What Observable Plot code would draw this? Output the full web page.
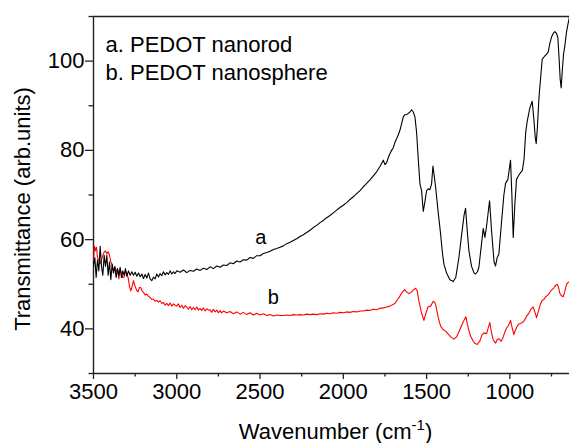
<!DOCTYPE html>
<html><head><meta charset="utf-8">
<script src="https://cdn.jsdelivr.net/npm/d3@7"></script>
<script src="https://cdn.jsdelivr.net/npm/@observablehq/plot@0.6"></script>
<style>html,body{margin:0;padding:0;background:#fff}</style>
</head><body><div id="chart"></div>
<script>
// Curve a: PEDOT nanorod (black)
const waveA = [3500,3492,3484,3476,3468,3460,3452,3444,3436,3428,3420,3412,3404,3396,3388,3380,3372,3364,3356,3348,3340,3332,3324,3316,3308,3300,3290,3280,3270,3260,3250,3240,3230,3220,3210,3200,3190,3180,3170,3160,3150,3140,3130,3120,3110,3100,3090,3080,3070,3060,3050,3040,3030,3020,3010,3000,2980,2960,2940,2920,2900,2880,2860,2840,2820,2800,2780,2760,2740,2720,2700,2680,2660,2640,2620,2600,2580,2560,2540,2520,2500,2480,2460,2440,2420,2400,2380,2360,2340,2320,2300,2280,2260,2240,2220,2200,2180,2160,2140,2120,2100,2080,2060,2040,2020,2000,1980,1960,1940,1920,1900,1880,1860,1840,1820,1800,1780,1760,1750,1740,1730,1720,1710,1700,1690,1680,1670,1660,1650,1640,1630,1620,1610,1600,1590,1580,1570,1560,1550,1540,1530,1520,1510,1500,1490,1480,1470,1462,1455,1446,1430,1416,1405,1396,1380,1360,1340,1325,1306,1290,1275,1266,1256,1246,1230,1215,1206,1195,1186,1172,1160,1150,1140,1122,1110,1095,1086,1076,1066,1050,1036,1026,1012,996,988,980,970,960,950,940,925,915,905,896,880,866,856,848,842,835,825,816,806,792,780,770,760,750,740,730,720,712,705,698,692,685,678,670,660,650,642];
const transA = [54,56,51.5,55.5,53,58.5,54,52,56.5,54,56.5,52,55,51,54.5,52.5,54,51.5,53.5,52,53.8,51.5,53,52,53.5,51.8,53,52,52.8,52,52.7,51.8,52.5,51.7,52.3,51.3,52.2,51.4,52.5,51.2,50.8,51.6,51.2,52.3,51.6,52.4,51.9,52.8,52.1,52.6,52.2,53,52.3,52.8,52.4,53,52.7,53.2,52.6,53.1,52.9,53.4,53.1,53.6,53.3,53.9,53.5,54.1,53.8,54.3,54.2,54.8,54.6,55.2,55,55.5,55.4,56,55.8,56.4,56.4,56.9,57.1,57.4,57.8,58,58.3,58.6,59.1,59.4,59.8,60.2,60.7,61.1,61.6,62.1,62.7,63.2,63.8,64.3,64.9,65.4,66,66.6,67.2,67.7,68.3,69,69.6,70.3,71,71.8,72.6,73.4,74.3,75.2,76.4,77.8,76.8,77.2,78.4,79.3,80,80.6,81.8,82.6,83.5,84.5,86,87.5,88,88,88.3,88.6,89.1,88.6,87.5,84,78,72.5,71,66.3,68.5,71,71.4,71.2,72.5,76.5,74.5,71.8,66,61.3,57,54.5,52.5,51,50.6,51.5,56,61,65.5,67,62,57.5,54,52.5,52.3,52.8,53.8,58.5,62.5,60.5,63,68.7,62,55,54.1,56,56.8,64,70,72.6,73.5,77.8,70,60.5,68,73.5,74.2,74.8,75.5,78,84,86.5,89.5,91,87,83,81.5,85,92,96,100.4,101.1,101.5,102,104,105.4,106.2,106.6,106.2,105.3,101,96,94,98,101.5,103.4,106.5,108.5,110];

// Curve b: PEDOT nanosphere (red)
const waveB = [3500,3494,3488,3482,3476,3468,3460,3452,3444,3436,3428,3420,3412,3404,3396,3388,3380,3372,3364,3356,3348,3340,3332,3324,3316,3308,3300,3292,3284,3276,3268,3260,3250,3240,3232,3224,3216,3208,3200,3190,3180,3170,3160,3150,3140,3130,3120,3110,3100,3090,3080,3070,3060,3050,3040,3030,3020,3010,3000,2990,2980,2970,2960,2950,2940,2930,2920,2910,2900,2890,2880,2870,2860,2850,2840,2830,2820,2810,2800,2790,2780,2770,2760,2750,2740,2730,2720,2700,2680,2660,2640,2620,2600,2580,2560,2540,2520,2500,2480,2460,2440,2420,2400,2380,2360,2340,2320,2300,2280,2260,2240,2220,2200,2180,2160,2140,2120,2100,2080,2060,2040,2020,2000,1980,1960,1940,1920,1900,1880,1860,1840,1820,1800,1780,1760,1740,1720,1700,1690,1680,1666,1650,1632,1620,1606,1590,1578,1566,1556,1546,1530,1516,1504,1492,1476,1460,1452,1446,1430,1416,1400,1386,1370,1355,1336,1320,1308,1296,1280,1264,1255,1245,1236,1220,1208,1196,1180,1168,1156,1140,1128,1120,1112,1100,1086,1076,1066,1052,1040,1030,1020,1008,996,986,976,966,956,946,930,916,900,885,870,860,850,840,830,818,806,796,785,775,766,750,735,725,716,708,700,690,680,670,660,650,642];
const transB = [55.5,58.5,57.5,58.3,56,55.5,54.6,55.5,56.5,57.2,57.5,56.8,57.3,56.5,55,54.3,53,53.8,52.8,53.5,51.2,53.3,52.5,51.5,51.6,53,52.2,51.5,49.5,48.5,49.5,50.8,49.5,48.6,48.3,49.3,49.2,48.5,48.2,47.6,47.8,47.3,47,46.6,46.7,46.2,46.4,46,46.3,45.7,45.9,45.3,45.7,45.2,45.8,45.1,45.6,45.3,45.1,45.6,44.8,45.3,44.6,45.2,44.9,44.4,45,44.3,44.8,44.3,44.9,44.2,44.6,44.1,44.7,44,44.5,44.2,44.3,43.7,44.4,43.8,44.2,43.6,44.1,43.6,44,43.6,43.9,43.4,43.8,43.3,43.7,43.2,43.6,43.1,43.5,43.1,43.4,43,43.2,42.9,43.1,43,43,43.1,43,43.2,43.1,43.2,43.1,43.3,43.2,43.3,43.2,43.4,43.3,43.5,43.4,43.6,43.5,43.7,43.6,43.8,43.7,43.9,43.8,44,44,44.2,44.1,44.4,44.3,44.6,44.7,44.9,45.1,45.5,45.7,46.3,47,48,48.8,48.3,47.9,48.3,48.8,49.1,48.5,46.2,43.5,41.9,43.5,44.9,45.1,46.2,46,45.5,42.5,40.6,39.8,39.5,38.8,38.2,37.7,38.2,39.2,40.2,41.6,42.7,41,39.5,38.4,37.2,36.7,36.5,37.3,38.6,39.1,38.9,40.5,41.4,39.5,37.5,36.8,37.6,37.8,37.2,38.2,39.3,40.2,40.8,41.9,40.2,38.7,39.8,40.6,41.1,41.3,41.7,42.8,43.6,44.6,44.9,43.8,42.5,43.8,45.4,46.4,46.6,47.2,47.5,47.8,48.7,49.2,49.8,50,49.3,48,47.4,47.2,48.4,50,50.4,50.6];

// Ticks
const majorX = [3500, 3000, 2500, 2000, 1500, 1000];
const minorX = [3250, 2750, 2250, 1750, 1250, 750];
const majorY = [40, 60, 80, 100];
const minorY = [30, 50, 70, 90, 110];

// Text
const legendLines = ["a. PEDOT nanorod", "b. PEDOT nanosphere"];
const curveLabels = ["a", "b"];
const curveLabelX = [2496, 2420];
const curveLabelY = [60.5, 47];
const xTitle = "Wavenumber (cm-1)";
const yTitle = "Transmittance (arb.units)";

const dataA = waveA.map((w, i) => ({w, t: transA[i]}));
const dataB = waveB.map((w, i) => ({w, t: transB[i]}));
const labels = curveLabels.map((s, i) => ({s, x: curveLabelX[i], y: curveLabelY[i]}));

const font = "'Liberation Sans', Arial, Helvetica, sans-serif";
const axisColor = "#222";

const chart = Plot.plot({
  width: 569,
  height: 443,
  marginLeft: 93,
  marginRight: 0,
  marginTop: 16,
  marginBottom: 70,
  style: {fontFamily: font, fontSize: "22px", color: "#000", background: "#fff"},
  x: {domain: [3500, 642]},
  y: {domain: [30, 110]},
  marks: [
    Plot.axisX({ticks: majorX, tickSize: 6, tickPadding: 4, tickFormat: d => String(d), label: null, stroke: axisColor, strokeWidth: 1.3, fontSize: 22}),
    Plot.axisX({ticks: minorX, tickSize: 3.5, tickFormat: () => "", label: null, stroke: axisColor, strokeWidth: 1.3}),
    Plot.axisY({ticks: majorY, tickSize: 8, tickPadding: 1, tickFormat: d => String(d), label: null, stroke: axisColor, strokeWidth: 1.3, fontSize: 22}),
    Plot.axisY({ticks: minorY, tickSize: 4.5, tickFormat: () => "", label: null, stroke: axisColor, strokeWidth: 1.3}),
    Plot.ruleY([30], {stroke: axisColor, strokeWidth: 1.4}),
    Plot.ruleY([110], {stroke: axisColor, strokeWidth: 1.4}),
    Plot.ruleX([3500], {stroke: axisColor, strokeWidth: 1.4}),
    Plot.line(dataB, {x: "w", y: "t", stroke: "#ff0000", strokeWidth: 1.1}),
    Plot.line(dataA, {x: "w", y: "t", stroke: "#000", strokeWidth: 1.1}),
    Plot.text(labels, {x: "x", y: "y", text: "s", fontSize: 20, fill: "#000"}),
    Plot.text([legendLines[0]], {text: d => d, frameAnchor: "top-left", dx: 12, dy: 35, textAnchor: "start", lineAnchor: "bottom", fontSize: 22, fill: "#000"}),
    Plot.text([legendLines[1]], {text: d => d, frameAnchor: "top-left", dx: 12, dy: 63, textAnchor: "start", lineAnchor: "bottom", fontSize: 22, fill: "#000"}),
    Plot.text([yTitle], {text: d => d, frameAnchor: "left", rotate: -90, dx: -71, dy: 14, textAnchor: "middle", lineAnchor: "middle", fontSize: 22, fill: "#000"}),
    Plot.text([xTitle], {text: d => d, frameAnchor: "bottom", dx: 4, dy: 65, textAnchor: "middle", lineAnchor: "bottom", fontSize: 22, fill: "#000"})
  ]
});

// Superscript for the x-axis title
chart.querySelectorAll("text").forEach(t => {
  if (t.textContent === xTitle) {
    t.textContent = "";
    const ns = "http://www.w3.org/2000/svg";
    const a = document.createElementNS(ns, "tspan"); a.textContent = "Wavenumber (cm";
    const b = document.createElementNS(ns, "tspan"); b.textContent = "-1"; b.setAttribute("dy", "-9"); b.setAttribute("font-size", "15");
    const c = document.createElementNS(ns, "tspan"); c.textContent = ")"; c.setAttribute("dy", "9");
    t.append(a, b, c);
  }
});

document.getElementById("chart").appendChild(chart);
</script>
</body></html>
